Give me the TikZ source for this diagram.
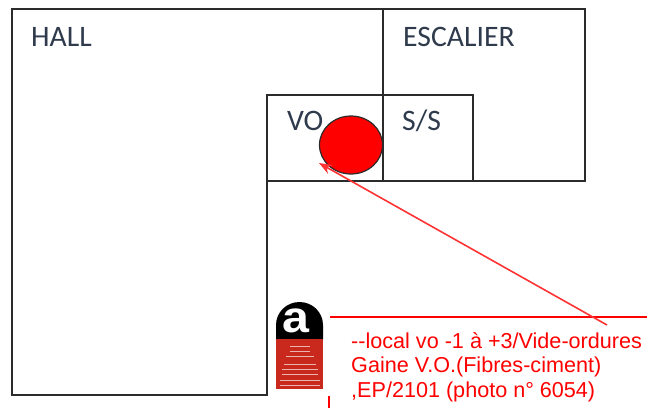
\documentclass[tikz,border=0pt]{standalone}
\usepackage{fontspec}
\setmainfont{Carlito}
\newfontfamily\redfont{Liberation Sans}
\usetikzlibrary{arrows.meta,shapes.geometric}
\definecolor{wallc}{HTML}{2B2B2B}
\definecolor{labelc}{HTML}{C9281C}
\definecolor{roomtext}{HTML}{2F3B4C}
\tikzset{
  wall/.style={draw=wallc,line width=1.3pt},
  room/.style={font=\fontsize{29.7}{30}\selectfont,text=roomtext,anchor=base west,inner sep=0pt},
  note/.style={font=\redfont\fontsize{21.6}{24.5}\selectfont,text=red,align=left,anchor=north west,inner sep=0pt},
  redline/.style={draw=red,line width=1.2pt},
}
\begin{document}
\begin{tikzpicture}[x=1pt,y=-1pt]
\useasboundingbox (0,0) rectangle (647,408);
\fill[white] (0,0) rectangle (647,408);
% walls
\draw[wall,line join=miter] (12,9) -- (585,9) -- (585,181) -- (267,181) -- (267,395) -- (12,395) -- cycle;
\draw[wall] (383,9) -- (383,181);
\draw[wall] (267,181) -- (267,95) -- (473,95) -- (473,181);
% room labels
\node[room] (hall) at (31,46) {HALL};
\node[room] (esc) at (403,46) {ESCALIER};
\node[room] (vo) at (287,130) {VO};
\node[room] (ss) at (402,130) {S/S};
% circle
\node[draw=wallc,fill=red,ellipse,minimum width=63pt,minimum height=58pt,inner sep=0pt,line width=1.2pt] (dot) at (351,145) {};
% asbestos tag
\fill[black] (276,339) -- (276,325) arc[start angle=180,end angle=360,x radius=23.5,y radius=23] -- (323,339) -- cycle;
\fill[labelc] (276,339) rectangle (323,389);
\node[font=\redfont\bfseries\fontsize{44}{44}\selectfont,text=white,inner sep=0pt,xscale=1.1] (tag) at (296,321) {a};
\foreach \yy/\w in {346/10,351/10,356/14,364/16,369/18,374/18,380/20,385/20}
  \draw[white!65!labelc,line width=0.9pt] (299.5-\w,\yy) -- (299.5+\w,\yy);
% red note
\coordinate (lineA) at (330,317);
\coordinate (lineB) at (647,317);
\coordinate (tailA) at (329,396);
\coordinate (tailB) at (329,408);
\coordinate (arrowStart) at (607,325);
\coordinate (arrowEnd) at (319,163);
\draw[redline] (lineA) -- (lineB);
\draw[redline] (tailA) -- (tailB);
\draw[draw=red!80!white,line width=1.6pt,-{Stealth[length=13pt,width=10pt]}] (arrowStart) -- (arrowEnd);
\node[note] (note) at (351,332) {--local vo -1 à +3/Vide-ordures\\Gaine V.O.(Fibres-ciment)\\,EP/2101 (photo n° 6054)};
\end{tikzpicture}
\end{document}
